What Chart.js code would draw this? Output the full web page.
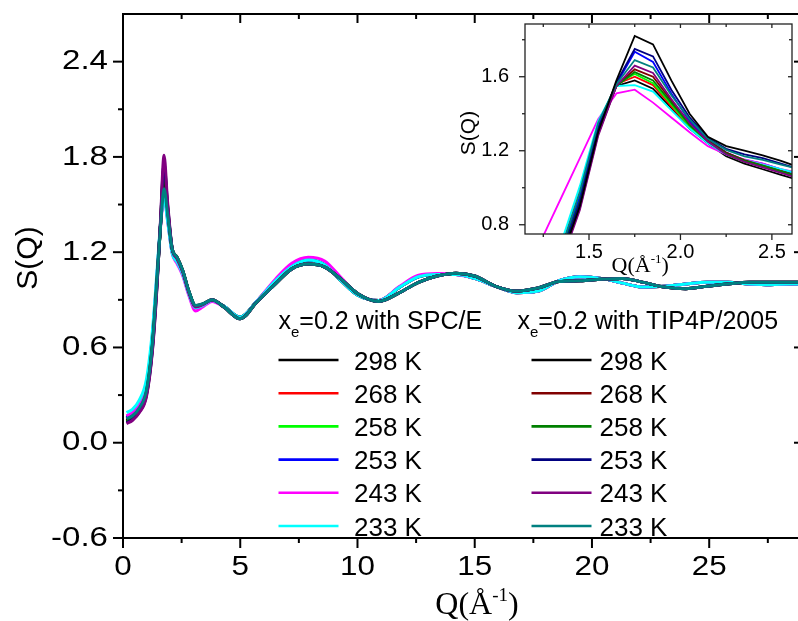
<!DOCTYPE html>
<html>
<head>
<meta charset="utf-8">
<script src="https://cdn.jsdelivr.net/npm/chart.js@4.4.0/dist/chart.umd.min.js"></script>
<style>
  html, body { margin: 0; padding: 0; background: #fff; }
  #wrap { position: relative; width: 798px; height: 621px; overflow: hidden; }
  #mainChart { position: absolute; left: 0; top: 0; }
  #insetChart { position: absolute; left: 440px; top: 0; }
</style>
</head>
<body>
<div id="wrap">
  <canvas id="mainChart" width="810" height="621"></canvas>
  <canvas id="insetChart" width="358" height="280"></canvas>
</div>
<script>
// legend
const temps = ['298 K', '268 K', '258 K', '253 K', '243 K', '233 K'];
const spceColors = ['#000000', '#ff0000', '#00ff00', '#0000ff', '#ff00ff', '#00ffff'];
const tipColors = ['#000000', '#800000', '#008000', '#000080', '#800080', '#008080'];

// main plot ticks
const xMajor = [0, 5, 10, 15, 20, 25];
const xMinor = [2.5, 7.5, 12.5, 17.5, 22.5, 27.5];
const yMajor = [-0.6, 0, 0.6, 1.2, 1.8, 2.4];
const yMinor = [-0.3, 0.3, 0.9, 1.5, 2.1];

// main plot, Q in 1/A
const qMain = [0.15, 0.4, 0.7, 1.0, 1.25, 1.45, 1.6, 1.75, 1.9, 2.1, 2.3, 2.55, 2.8, 3.1, 3.4,
  3.8, 4.3, 5.0, 5.7, 6.5, 7.2, 7.9, 8.6, 9.3, 10.0, 10.9, 11.8, 12.6, 13.4, 14.2, 15.0, 15.9,
  16.8, 17.7, 18.6, 19.5, 20.4, 21.3, 22.2, 23.1, 24.0, 24.9, 25.8, 26.7, 27.6, 28.5, 29.0];

// low-Q part (up to 3.4) of every curve
const spce298Head = [0.15, 0.17, 0.225, 0.34, 0.63, 1.03, 1.37, 1.62, 1.44, 1.21, 1.16, 1.08, 0.955, 0.86, 0.872];
const spce268Head = [0.155, 0.175, 0.23, 0.35, 0.64, 1.04, 1.37, 1.60, 1.43, 1.21, 1.155, 1.075, 0.95, 0.858, 0.87];
const spce258Head = [0.16, 0.18, 0.235, 0.355, 0.65, 1.05, 1.37, 1.58, 1.42, 1.20, 1.15, 1.07, 0.945, 0.855, 0.868];
const spce253Head = [0.16, 0.18, 0.24, 0.36, 0.66, 1.05, 1.37, 1.57, 1.42, 1.20, 1.15, 1.07, 0.945, 0.855, 0.868];
const spce243Head = [0.17, 0.19, 0.25, 0.37, 0.67, 1.06, 1.36, 1.55, 1.40, 1.19, 1.13, 1.05, 0.93, 0.83, 0.855];
const spce233Head = [0.19, 0.21, 0.27, 0.40, 0.70, 1.08, 1.38, 1.54, 1.40, 1.19, 1.14, 1.06, 0.94, 0.85, 0.865];
const tip298Head = [0.14, 0.16, 0.21, 0.32, 0.61, 1.02, 1.37, 1.70, 1.47, 1.22, 1.17, 1.083, 0.958, 0.863, 0.874];
const tip268Head = [0.135, 0.155, 0.205, 0.31, 0.60, 1.01, 1.38, 1.72, 1.48, 1.22, 1.17, 1.082, 0.957, 0.862, 0.873];
const tip258Head = [0.13, 0.15, 0.20, 0.305, 0.59, 1.0, 1.38, 1.74, 1.49, 1.22, 1.165, 1.08, 0.955, 0.86, 0.872];
const tip253Head = [0.125, 0.145, 0.195, 0.30, 0.58, 0.99, 1.39, 1.76, 1.50, 1.22, 1.165, 1.08, 0.955, 0.86, 0.872];
const tip243Head = [0.12, 0.14, 0.19, 0.29, 0.57, 0.98, 1.40, 1.81, 1.52, 1.22, 1.16, 1.075, 0.95, 0.855, 0.87];
const tip233Head = [0.15, 0.17, 0.22, 0.33, 0.62, 1.03, 1.36, 1.60, 1.44, 1.22, 1.17, 1.085, 0.96, 0.865, 0.875];

// high-Q part (3.8 on)
const spceTail = [0.895, 0.86, 0.79, 0.89, 1.02, 1.11, 1.15, 1.12, 1.02, 0.93, 0.895, 0.98, 1.045, 1.06, 1.06, 1.035,
  0.985, 0.945, 0.955, 1.02, 1.045, 1.035, 1.005, 0.98, 0.985, 1.0, 1.01, 1.01, 1.0, 0.995, 1.0, 1.0];
const spce243Tail = [0.89, 0.855, 0.785, 0.89, 1.03, 1.13, 1.168, 1.145, 1.04, 0.935, 0.895, 0.985, 1.055, 1.065, 1.06, 1.035,
  0.985, 0.945, 0.955, 1.02, 1.045, 1.035, 1.005, 0.98, 0.985, 1.0, 1.01, 1.01, 1.0, 0.995, 1.0, 1.0];
const tipTail = [0.90, 0.855, 0.78, 0.885, 1.00, 1.095, 1.125, 1.106, 1.03, 0.94, 0.89, 0.945, 1.01, 1.05, 1.068, 1.05,
  0.985, 0.955, 0.975, 1.015, 1.02, 1.03, 1.035, 1.01, 0.98, 0.97, 0.985, 1.0, 1.01, 1.01, 1.01, 1.01];

// inset
const qInset = [1.25, 1.35, 1.45, 1.55, 1.65, 1.75, 1.85, 1.95, 2.05, 2.15, 2.25, 2.35, 2.45, 2.55, 2.65];
const inSpce298 = [0.41, 0.61, 0.89, 1.29, 1.55, 1.58, 1.535, 1.43, 1.32, 1.24, 1.17, 1.13, 1.10, 1.07, 1.04];
const inSpce268 = [0.47, 0.67, 0.96, 1.34, 1.56, 1.60, 1.555, 1.44, 1.33, 1.245, 1.185, 1.15, 1.125, 1.095, 1.065];
const inSpce258 = [0.47, 0.67, 0.96, 1.34, 1.56, 1.615, 1.565, 1.45, 1.33, 1.245, 1.18, 1.14, 1.115, 1.085, 1.055];
const inSpce253 = [0.46, 0.66, 0.95, 1.33, 1.56, 1.735, 1.68, 1.51, 1.36, 1.26, 1.19, 1.15, 1.13, 1.10, 1.07];
const inSpce243 = [0.74, 0.95, 1.16, 1.37, 1.51, 1.53, 1.46, 1.38, 1.30, 1.225, 1.18, 1.153, 1.13, 1.10, 1.08];
const inSpce233 = [0.50, 0.71, 1.01, 1.36, 1.55, 1.555, 1.52, 1.42, 1.32, 1.24, 1.18, 1.15, 1.125, 1.10, 1.075];
const inTip298 = [0.42, 0.62, 0.90, 1.30, 1.58, 1.82, 1.775, 1.58, 1.40, 1.275, 1.225, 1.20, 1.175, 1.145, 1.11];
const inTip268 = [0.43, 0.63, 0.91, 1.30, 1.55, 1.64, 1.60, 1.47, 1.34, 1.255, 1.19, 1.15, 1.12, 1.09, 1.06];
const inTip258 = [0.45, 0.65, 0.93, 1.31, 1.55, 1.625, 1.58, 1.46, 1.34, 1.25, 1.185, 1.145, 1.12, 1.09, 1.06];
const inTip253 = [0.44, 0.64, 0.92, 1.32, 1.57, 1.75, 1.71, 1.53, 1.38, 1.27, 1.21, 1.18, 1.16, 1.13, 1.10];
const inTip243 = [0.40, 0.60, 0.88, 1.28, 1.55, 1.66, 1.62, 1.48, 1.35, 1.25, 1.18, 1.14, 1.11, 1.08, 1.05];
const inTip233 = [0.48, 0.68, 0.98, 1.35, 1.56, 1.69, 1.65, 1.50, 1.37, 1.265, 1.205, 1.17, 1.15, 1.125, 1.10];
const inXMajor = [1.5, 2.0, 2.5];
const inXMinor = [1.25, 1.75, 2.25];
const inYMajor = [0.8, 1.2, 1.6];
const inYMinor = [1.0, 1.4, 1.8];

const mainSeries = [
  spce298Head.concat(spceTail), spce268Head.concat(spceTail), spce258Head.concat(spceTail),
  spce253Head.concat(spceTail), spce243Head.concat(spce243Tail), spce233Head.concat(spceTail),
  tip298Head.concat(tipTail), tip268Head.concat(tipTail), tip258Head.concat(tipTail),
  tip253Head.concat(tipTail), tip243Head.concat(tipTail), tip233Head.concat(tipTail)
];
const insetSeries = [inSpce298, inSpce268, inSpce258, inSpce253, inSpce243, inSpce233,
  inTip298, inTip268, inTip258, inTip253, inTip243, inTip233];
const allColors = spceColors.concat(tipColors);

const SANS = '"Liberation Sans", Arial, sans-serif';
const SERIF = '"Liberation Serif", "Times New Roman", serif';

function tickMarks(ctx, scale, values, axis, base, len) {
  values.forEach(v => {
    const p = scale.getPixelForValue(v);
    ctx.beginPath();
    if (axis === 'x') { ctx.moveTo(p, base); ctx.lineTo(p, base + len); }
    else { ctx.moveTo(base, p); ctx.lineTo(base + len, p); }
    ctx.stroke();
  });
}

// text that is a bit wider than the font, like the original figure's tick labels
function wideText(ctx, text, x, y, align, stretch) {
  ctx.save();
  ctx.translate(x, y);
  ctx.scale(stretch, 1);
  ctx.textAlign = align;
  ctx.fillText(text, 0, 0);
  ctx.restore();
}

// draws Q(Å^-1) with a raised "-1"
function drawQTitle(ctx, cx, baseY, size) {
  ctx.font = size + 'px ' + SERIF;
  const a = 'Q(Å', b = ')';
  const supSize = Math.round(size * 0.6);
  const wa = ctx.measureText(a).width, wb = ctx.measureText(b).width;
  ctx.font = supSize + 'px ' + SERIF;
  const ws = ctx.measureText('-1').width;
  let x = cx - (wa + ws + wb) / 2;
  ctx.textAlign = 'left';
  ctx.textBaseline = 'alphabetic';
  ctx.font = size + 'px ' + SERIF;
  ctx.fillText(a, x, baseY);
  x += wa;
  ctx.font = supSize + 'px ' + SERIF;
  ctx.fillText('-1', x, baseY - size * 0.42);
  x += ws;
  ctx.font = size + 'px ' + SERIF;
  ctx.fillText(b, x, baseY);
}

const mainDecor = {
  id: 'mainDecor',
  afterDraw(chart) {
    const ctx = chart.ctx;
    const { left, right, top, bottom } = chart.chartArea;
    const xs = chart.scales.x, ys = chart.scales.y;
    ctx.save();
    ctx.strokeStyle = '#000';
    ctx.lineWidth = 2;
    ctx.strokeRect(left, top, right - left, bottom - top);
    tickMarks(ctx, xs, xMajor, 'x', bottom, 10);
    tickMarks(ctx, xs, xMinor, 'x', bottom, 5);
    tickMarks(ctx, xs, xMajor, 'x', top, 9);
    tickMarks(ctx, xs, xMinor, 'x', top, 5);
    tickMarks(ctx, ys, yMajor, 'y', left, -10);
    tickMarks(ctx, ys, yMinor, 'y', left, -5);
    tickMarks(ctx, ys, yMajor, 'y', right, -9);
    tickMarks(ctx, ys, yMinor, 'y', right, -5);

    ctx.fillStyle = '#000';
    // tick labels
    ctx.font = '28px ' + SANS;
    ctx.textBaseline = 'middle';
    xs.ticks.forEach(t => wideText(ctx, String(t.value), xs.getPixelForValue(t.value), bottom + 29, 'center', 1.12));
    ys.ticks.forEach(t => wideText(ctx, t.value.toFixed(1), left - 15, ys.getPixelForValue(t.value), 'right', 1.18));

    // axis titles
    ctx.save();
    ctx.translate(29, 258);
    ctx.rotate(-Math.PI / 2);
    ctx.font = '30px ' + SANS;
    ctx.textAlign = 'center';
    ctx.textBaseline = 'middle';
    ctx.fillText('S(Q)', 0, 0);
    ctx.restore();
    drawQTitle(ctx, 477, 614, 32);

    // legend
    const heads = [['SPC/E', 278.5], ['TIP4P/2005', 517.5]];
    heads.forEach(([model, hx]) => {
      ctx.textAlign = 'left';
      ctx.textBaseline = 'alphabetic';
      ctx.font = '25px ' + SANS;
      ctx.fillText('x', hx, 329);
      const wx = ctx.measureText('x').width;
      ctx.font = '15px ' + SANS;
      ctx.fillText('e', hx + wx, 337);
      const we = ctx.measureText('e').width;
      ctx.font = '25px ' + SANS;
      ctx.fillText('=0.2 with ' + model, hx + wx + we, 329);
    });
    temps.forEach((t, i) => {
      const ly = 360 + i * 33.2;
      ctx.lineWidth = 2.6;
      ctx.strokeStyle = spceColors[i];
      ctx.beginPath(); ctx.moveTo(278.5, ly); ctx.lineTo(338.5, ly); ctx.stroke();
      ctx.strokeStyle = tipColors[i];
      ctx.beginPath(); ctx.moveTo(531.5, ly); ctx.lineTo(591.5, ly); ctx.stroke();
      ctx.font = '26px ' + SANS;
      ctx.fillStyle = '#000';
      ctx.fillText(t, 354, ly + 9.5);
      ctx.fillText(t, 599.5, ly + 9.5);
    });
    ctx.restore();
  }
};

const insetDecor = {
  id: 'insetDecor',
  afterDraw(chart) {
    const ctx = chart.ctx;
    const { left, right, top, bottom } = chart.chartArea;
    const xs = chart.scales.x, ys = chart.scales.y;
    ctx.save();
    ctx.strokeStyle = '#222';
    ctx.lineWidth = 1.3;
    ctx.strokeRect(left, top, right - left, bottom - top);
    tickMarks(ctx, xs, inXMajor, 'x', bottom, 6);
    tickMarks(ctx, xs, inXMinor, 'x', bottom, 3);
    tickMarks(ctx, xs, inXMajor, 'x', top, 4);
    tickMarks(ctx, xs, inXMinor, 'x', top, 3);
    tickMarks(ctx, ys, inYMajor, 'y', left, -6);
    tickMarks(ctx, ys, inYMinor, 'y', left, -3);
    tickMarks(ctx, ys, inYMajor, 'y', right, -4);
    tickMarks(ctx, ys, inYMinor, 'y', right, -3);
    ctx.fillStyle = '#000';
    ctx.save();
    ctx.translate(29, 133);
    ctx.rotate(-Math.PI / 2);
    ctx.font = '21px ' + SANS;
    ctx.textAlign = 'center';
    ctx.textBaseline = 'middle';
    ctx.fillText('S(Q)', 0, 0);
    ctx.restore();
    drawQTitle(ctx, xs.getPixelForValue(1.78), 272, 22);
    ctx.restore();
  }
};

// keep chart area edges where the plot frame should be
function fixY(width) {
  return s => { s.width = width; s.paddingTop = 0; s.paddingBottom = 0; };
}
function fixX(height) {
  return s => { s.height = height; s.paddingLeft = 0; s.paddingRight = 0; };
}

const mainDatasets = mainSeries.map((vals, i) => ({
  label: i < 6 ? 'SPC/E ' + temps[i] : 'TIP4P/2005 ' + temps[i - 6],
  data: qMain.map((q, k) => ({ x: q, y: vals[k] })),
  borderColor: allColors[i],
  borderWidth: 3,
  pointRadius: 0,
  fill: false,
  cubicInterpolationMode: 'monotone',
  order: 11 - i
}));

new Chart(document.getElementById('mainChart'), {
  type: 'line',
  data: { datasets: mainDatasets },
  options: {
    responsive: false,
    animation: false,
    devicePixelRatio: 1,
    layout: { padding: { left: 0, top: 14, right: 7, bottom: 0 } },
    plugins: { legend: { display: false }, tooltip: { enabled: false } },
    scales: {
      x: {
        type: 'linear', min: 0, max: 29,
        afterFit: fixX(83),
        grid: { display: false }, border: { display: false },
        ticks: { stepSize: 5, includeBounds: false, display: false }
      },
      y: {
        min: -0.6, max: 2.7,
        afterFit: fixY(123),
        grid: { display: false }, border: { display: false },
        ticks: { stepSize: 0.6, includeBounds: false, display: false }
      }
    }
  },
  plugins: [mainDecor]
});

const insetDatasets = insetSeries.map((vals, i) => ({
  label: 'inset ' + i,
  data: qInset.map((q, k) => ({ x: q, y: vals[k] })),
  borderColor: allColors[i],
  borderWidth: 1.8,
  pointRadius: 0,
  fill: false,
  tension: 0,
  order: i === 6 ? -1 : 11 - i
}));

new Chart(document.getElementById('insetChart'), {
  type: 'line',
  data: { datasets: insetDatasets },
  options: {
    responsive: false,
    animation: false,
    devicePixelRatio: 1,
    layout: { padding: { left: 0, top: 24, right: 6, bottom: 0 } },
    plugins: { legend: { display: false }, tooltip: { enabled: false } },
    scales: {
      x: {
        type: 'linear', min: 1.15, max: 2.61,
        afterFit: fixX(46),
        grid: { display: false }, border: { display: false },
        ticks: { stepSize: 0.5, includeBounds: false, padding: -2, color: '#000', font: { family: SANS, size: 20 }, maxRotation: 0,
          callback: v => v.toFixed(1) }
      },
      y: {
        min: 0.75, max: 1.885,
        afterFit: fixY(85),
        grid: { display: false }, border: { display: false },
        ticks: { stepSize: 0.4, includeBounds: false, padding: 8, color: '#000', font: { family: SANS, size: 20 },
          callback: v => v.toFixed(1) }
      }
    }
  },
  plugins: [insetDecor]
});
</script>
</body>
</html>
